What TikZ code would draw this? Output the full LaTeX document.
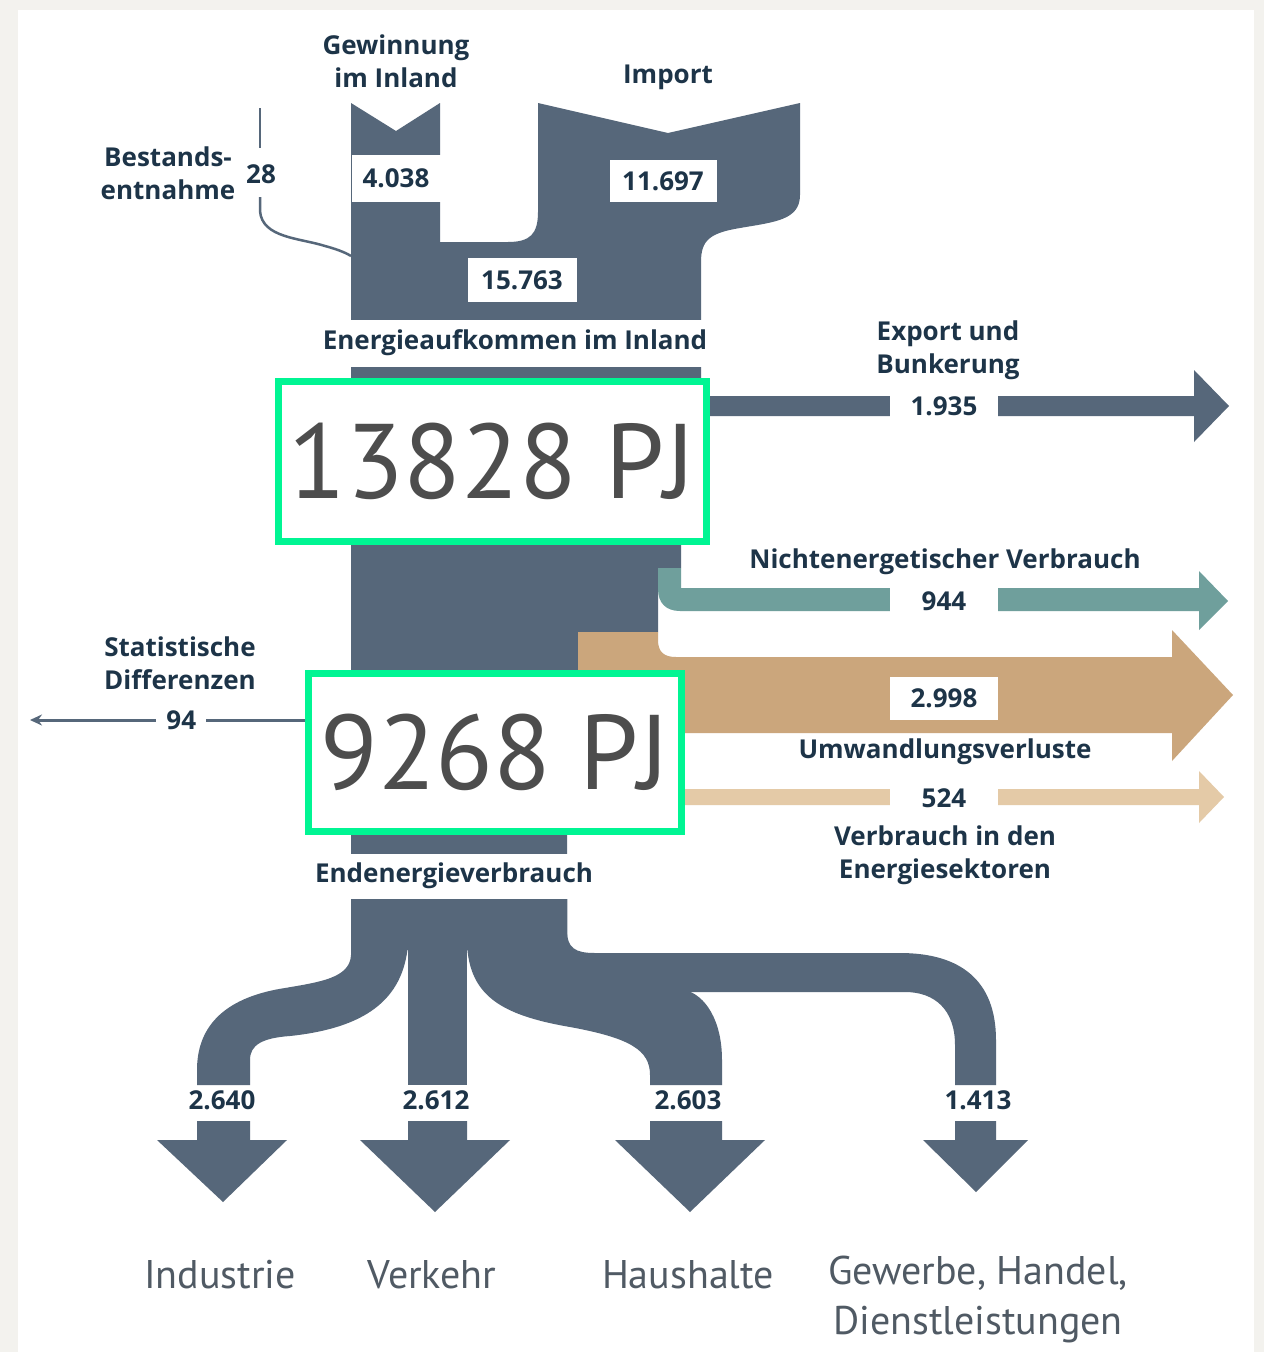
\documentclass[tikz,border=0pt]{standalone}
\usepackage{fontspec}
\setmainfont{PT Sans}
\newfontfamily\lblfont{Open Sans}
\usetikzlibrary{arrows.meta}
\definecolor{slate}{HTML}{56677A}
\definecolor{flowteal}{HTML}{6F9F9C}
\definecolor{flowtan}{HTML}{CBA67C}
\definecolor{flowsand}{HTML}{E4CAA7}
\definecolor{labelnavy}{HTML}{1D3448}
\definecolor{markgreen}{HTML}{00F593}
\definecolor{bignum}{HTML}{4D4D4D}
\definecolor{sectorgray}{HTML}{505A64}
\definecolor{pagegray}{HTML}{F3F2EE}

\begin{document}
\begin{tikzpicture}[
    x=1pt, y=-1pt,
    flow/.style={fill=slate},
    lbl/.style={font=\lblfont\bfseries\fontsize{26}{33}\selectfont, text=labelnavy, align=center},
    valbox/.style={lbl, fill=white, inner sep=0pt, minimum width=108pt, minimum height=30pt},
    pjbox/.style={draw=markgreen, line width=7pt, fill=white, inner sep=0pt,
        font=\fontsize{106}{106}\selectfont, text=bignum},
    sector/.style={font=\fontsize{40}{50}\selectfont, text=sectorgray, align=center},
    thinline/.style={draw=slate, line width=2.5pt},
    >=Stealth
]
    % page
    \fill[pagegray] (0,0) rectangle (1264,1352);
    \fill[white] (18,10) rectangle (1254,1352);
    \useasboundingbox (0,0) rectangle (1264,1352);

    % Aufkommen und Hauptstrom
    \fill[flow] (351,103) -- (396,131) -- (440,103) -- (440,242) -- (508,242)
        .. controls (530,242) and (538,234) .. (538,212) -- (538,103) -- (668,133) -- (800,103)
        -- (800,195) .. controls (800,220) and (775,222) .. (740,228)
        .. controls (710,233) and (701,240) .. (701,262)
        -- (701,396) -- (1194,396) -- (1194,370) -- (1229,406) -- (1194,442) -- (1194,416)
        -- (681,416) -- (681,568) -- (658,568) -- (658,632) -- (578,632) -- (578,780)
        -- (567,780) -- (567,950) -- (351,950) -- cycle;

    % Abgaenge rechts
    \fill[flowteal] (658,568) -- (681,568) -- (681,588) -- (1199,588) -- (1199,571)
        -- (1228,601) -- (1199,630) -- (1199,611) -- (680,611)
        .. controls (666,611) and (658,603) .. (658,589) -- cycle;
    \fill[flowtan] (578,632) -- (658,632) -- (658,640) .. controls (658,652) and (664,657) .. (676,657)
        -- (1172,657) -- (1172,630) -- (1233,695) -- (1172,761) -- (1172,733) -- (578,733) -- cycle;
    \fill[flowsand] (578,789) -- (1199,789) -- (1199,771) -- (1224,797) -- (1199,823)
        -- (1199,805) -- (578,805) -- cycle;

    % Endenergie nach Sektoren
    \fill[flow] (351,898) -- (351,955) .. controls (350,978) and (320,982) .. (285,988)
        .. controls (220,998) and (197,1030) .. (197,1070) -- (197,1085) -- (250,1085) -- (250,1060)
        .. controls (250,1045) and (262,1038) .. (290,1036)
        .. controls (365,1028) and (403,1000) .. (408,945) -- (408,898) -- cycle;
    \fill[flow] (408,898) rectangle (467,1085);
    \fill[flow] (467,898) -- (467,945) .. controls (470,995) and (500,1015) .. (570,1027)
        .. controls (630,1038) and (650,1050) .. (650,1075) -- (650,1085) -- (722,1085) -- (722,1060)
        .. controls (722,1020) and (705,995) .. (685,990) -- (567,990) -- (567,898) -- cycle;
    \fill[flow] (567,898) -- (567,930) .. controls (567,948) and (575,953) .. (595,953) -- (900,953)
        .. controls (960,953) and (996,980) .. (996,1040) -- (996,1085) -- (955,1085) -- (955,1045)
        .. controls (955,1010) and (935,992) .. (905,992) -- (567,992) -- cycle;

    % Pfeile unten
    \fill[flow] (197,1121) -- (250,1121) -- (250,1140) -- (287,1140) -- (223,1202) -- (157,1140) -- (197,1140) -- cycle;
    \fill[flow] (408,1121) -- (467,1121) -- (467,1140) -- (510,1140) -- (435,1212) -- (360,1140) -- (408,1140) -- cycle;
    \fill[flow] (650,1121) -- (722,1121) -- (722,1140) -- (765,1140) -- (690,1212) -- (615,1140) -- (650,1140) -- cycle;
    \fill[flow] (955,1121) -- (996,1121) -- (996,1140) -- (1028,1140) -- (976,1192) -- (923,1140) -- (955,1140) -- cycle;

    % Bestandsentnahme
    \coordinate (bsttop) at (260,108);
    \coordinate (bstmid) at (260,148);
    \coordinate (bstlow) at (260,197);
    \coordinate (bstend) at (351,256);
    \draw[thinline] (bsttop) -- (bstmid);
    \draw[thinline] (bstlow) -- ++(0,14) .. controls (262,238) and (300,238) .. (325,246)
        .. controls (340,250) and (348,254) .. (bstend);

    % Beschriftung oben
    \node[lbl] (gew) at (396,61) {Gewinnung\\im Inland};
    \node[lbl] (imp) at (668,77) {Import};
    \node[lbl] (bst) at (168,173) {Bestands-\\entnahme};
    \node[lbl] (v28) at (261,174) {28};
    \node[valbox, minimum width=89pt, minimum height=47pt] (v4038) at (396,178) {4.038};
    \node[valbox, minimum width=107pt, minimum height=42pt] (v11697) at (663,181) {11.697};
    \node[valbox, minimum width=109pt, minimum height=44pt] (v15763) at (522,280) {15.763};
    \node[lbl, fill=white, inner sep=0pt, minimum height=47pt] (aufk) at (515,343) {Energieaufkommen im Inland};

    % Summen
    \node[pjbox, minimum width=428pt, minimum height=160pt] (pj1) at (492,461) {13828 PJ};
    \node[pjbox, minimum width=373pt, minimum height=158pt] (pj2) at (495,752) {9268 PJ};

    % Beschriftung rechts
    \node[lbl] (exp) at (948,350) {Export und\\Bunkerung};
    \node[valbox] (v1935) at (944,406) {1.935};
    \node[lbl] (nen) at (945,562) {Nichtenergetischer Verbrauch};
    \node[valbox] (v944) at (944,601) {944};
    \node[valbox, minimum height=43pt] (v2998) at (944,698) {2.998};
    \node[lbl] (umw) at (945,752) {Umwandlungsverluste};
    \node[valbox] (v524) at (944,798) {524};
    \node[lbl] (sek) at (945,855) {Verbrauch in den\\Energiesektoren};

    % Statistische Differenzen
    \node[lbl] (stat) at (180,663) {Statistische\\Differenzen};
    \coordinate (statend) at (30,720);
    \draw[draw=slate, line width=3pt, -{Stealth[length=12pt, width=11pt]}] (pj2.west |- 0,720)
        -- node[lbl, fill=white, pos=.45, inner sep=10pt] (v94) {94} (statend);

    % Endenergie
    \node[lbl, fill=white, inner sep=0pt, minimum height=45pt] (endv) at (454,876) {Endenergieverbrauch};
    \node[lbl] (v2640) at (222,1100) {2.640};
    \node[lbl] (v2612) at (436,1100) {2.612};
    \node[lbl] (v2603) at (688,1100) {2.603};
    \node[lbl] (v1413) at (978,1100) {1.413};

    % Sektoren
    \node[sector] (ind) at (220,1275) {Industrie};
    \node[sector] (ver) at (432,1275) {Verkehr};
    \node[sector] (hh) at (688,1275) {Haushalte};
    \node[sector] (ghd) at (978,1299) {Gewerbe, Handel,\\Dienstleistungen};
\end{tikzpicture}
\end{document}
